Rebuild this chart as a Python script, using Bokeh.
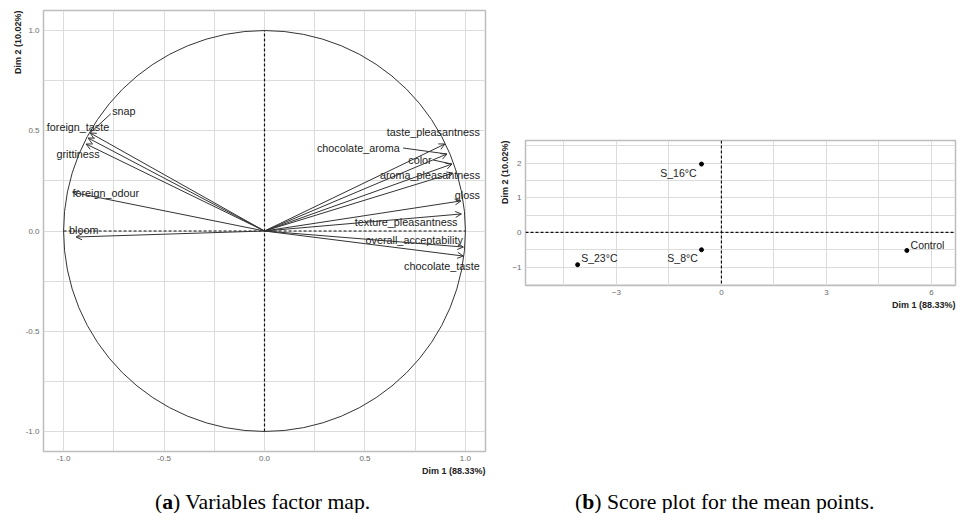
from bokeh.plotting import figure
from bokeh.models import (ColumnDataSource, Arrow, OpenHead, FixedTicker, Span, Div, Title,
                          PrintfTickFormatter)
from bokeh.layouts import row, column
from bokeh.embed import file_html
from bokeh.resources import INLINE
from bokeh.core.properties import value

# ---- (a) variables factor map data ----
variables = ["snap", "foreign_taste", "grittiness", "foreign_odour", "bloom",
             "taste_pleasantness", "chocolate_aroma", "color", "aroma_pleasantness",
             "gloss", "texture_pleasantness", "overall_acceptability", "chocolate_taste"]
dim1 = [-0.868, -0.878, -0.888, -0.955, -0.938, 0.898, 0.908, 0.933, 0.938, 0.978, 0.980, 0.990, 0.990]
dim2 = [0.489, 0.464, 0.434, 0.193, -0.030, 0.434, 0.384, 0.334, 0.289, 0.150, 0.085, -0.080, -0.125]
# label placement (repelled labels)
label_x = [-0.70, -0.928, -0.928, -0.79, -0.90, 0.84, 0.467, 0.774, 0.824, 1.01, 0.705, 0.745, 0.883]
label_y = [0.60, 0.519, 0.384, 0.19, 0.005, 0.494, 0.414, 0.354, 0.279, 0.18, 0.045, -0.045, -0.175]
# connector segments for repelled labels
repel_names = ["snap", "chocolate_aroma", "color"]
repel_x0 = [-0.765, 0.69, 0.84]
repel_y0 = [0.585, 0.414, 0.354]

axis_ticks_a = [-1.0, -0.5, 0.0, 0.5, 1.0]
axis_minor_a = [-0.75, -0.25, 0.25, 0.75]

# ---- (b) score plot data ----
samples = ["S_16°C", "S_23°C", "S_8°C", "Control"]
score1 = [-0.57, -4.11, -0.57, 5.30]
score2 = [1.97, -0.93, -0.50, -0.52]
sample_label_x = [-1.23, -3.49, -1.11, 5.89]
sample_label_y = [1.70, -0.75, -0.75, -0.37]

x_ticks_b = [-3, 0, 3, 6]
x_minor_b = [-4.5, -1.5, 1.5, 4.5]
y_ticks_b = [-1, 0, 1, 2]
y_minor_b = [-1.5, -0.5, 0.5, 1.5, 2.5]

x_title = "Dim 1 (88.33%)"
y_title = "Dim 2 (10.02%)"
caption_a = ("a", "Variables factor map.")
caption_b = ("b", "Score plot for the mean points.")

FONT = "Liberation Sans"
TXT = "#222222"
GRID = "#dcdcdc"


def style(p, xt, xm, yt, ym, fmt=None):
    p.background_fill_color = "white"
    p.border_fill_color = "white"
    p.outline_line_color = "#bdbdbd"
    p.outline_line_width = 1.5
    p.xaxis.ticker = FixedTicker(ticks=xt, minor_ticks=xm)
    p.yaxis.ticker = FixedTicker(ticks=yt, minor_ticks=ym)
    if fmt:
        p.xaxis.formatter = PrintfTickFormatter(format=fmt)
        p.yaxis.formatter = PrintfTickFormatter(format=fmt)
    for g in (p.xgrid, p.ygrid):
        g.grid_line_color = GRID
        g.grid_line_width = 1
        g.minor_grid_line_color = GRID
        g.minor_grid_line_width = 1
    for ax in (p.xaxis, p.yaxis):
        ax.axis_line_color = None
        ax.major_tick_line_color = None
        ax.minor_tick_line_color = None
        ax.major_tick_out = 0
        ax.major_tick_in = 0
        ax.minor_tick_out = 0
        ax.minor_tick_in = 0
        ax.major_label_text_font = FONT
        ax.major_label_text_font_size = "8px"
        ax.major_label_text_color = "#6a6a6a"
        ax.major_label_standoff = 4
    tkw = dict(text_font=FONT, text_font_size="9px", text_font_style="bold",
               text_color=TXT, align="right", standoff=0)
    p.add_layout(Title(text=x_title, **tkw), "below")
    p.add_layout(Title(text=y_title, **tkw), "left")


def caption(parts, width, pad_left):
    letter, rest = parts
    css = ("font-family:'Liberation Serif';font-size:21.7px;line-height:21px;color:#000;"
           f"text-align:left;padding-top:9px;padding-left:{pad_left}px;margin:0;"
           "white-space:nowrap;")
    return Div(text=f'<div style="{css}">(<b>{letter}</b>) {rest}</div>', width=width, height=34)


# ---------- figure (a) ----------
pa = figure(width=490, height=478, x_range=(-1.1, 1.1), y_range=(-1.1, 1.1),
            output_backend="svg", toolbar_location=None,
            min_border_left=43, min_border_right=5, min_border_top=10, min_border_bottom=27)
style(pa, axis_ticks_a, axis_minor_a, axis_ticks_a, axis_minor_a, fmt="%.1f")

pa.segment(x0=[-1, 0], y0=[0, -1], x1=[1, 0], y1=[0, 1],
           line_color="#111111", line_width=1.2, line_dash="3 2")
pa.ellipse(x=0, y=0, width=2, height=2, fill_color=None, line_color="#333333", line_width=1)

arr_src = ColumnDataSource(dict(x0=[0.0] * len(dim1), y0=[0.0] * len(dim1), x1=dim1, y1=dim2))
pa.add_layout(Arrow(end=OpenHead(size=6, line_color="#333333", line_width=1),
                    x_start="x0", y_start="y0", x_end="x1", y_end="y1",
                    source=arr_src, line_color="#333333", line_width=1))

idx = [variables.index(n) for n in repel_names]
pa.segment(x0=repel_x0, y0=repel_y0, x1=[dim1[i] for i in idx], y1=[dim2[i] for i in idx],
           line_color="#333333", line_width=1)

pa.text(x=label_x, y=label_y, text=variables, text_font=value(FONT), text_font_size="10.8px",
        text_align="center", text_baseline="middle", text_color=TXT)

# ---------- figure (b) ----------
pb = figure(width=470, height=478, x_range=(-5.6, 6.69), y_range=(-1.53, 2.65),
            output_backend="svg", toolbar_location=None,
            min_border_left=35, min_border_right=5, min_border_top=140, min_border_bottom=193)
style(pb, x_ticks_b, x_minor_b, y_ticks_b, y_minor_b)

pb.add_layout(Span(location=0, dimension="width", line_color="#111111", line_width=1.2, line_dash="3 2"))
pb.add_layout(Span(location=0, dimension="height", line_color="#111111", line_width=1.2, line_dash="3 2"))
pb.scatter(x=score1, y=score2, size=4, color="black")
pb.text(x=sample_label_x, y=sample_label_y, text=samples, text_font=value(FONT), text_font_size="10.5px",
        text_align="center", text_baseline="middle", text_color=TXT)

cap_a = caption(caption_a, 470, 150)
cap_b = caption(caption_b, 449, 80)

layout = row(column(pa, cap_a), column(pb, cap_b))

open("out.html", "w").write(file_html(layout, INLINE))
